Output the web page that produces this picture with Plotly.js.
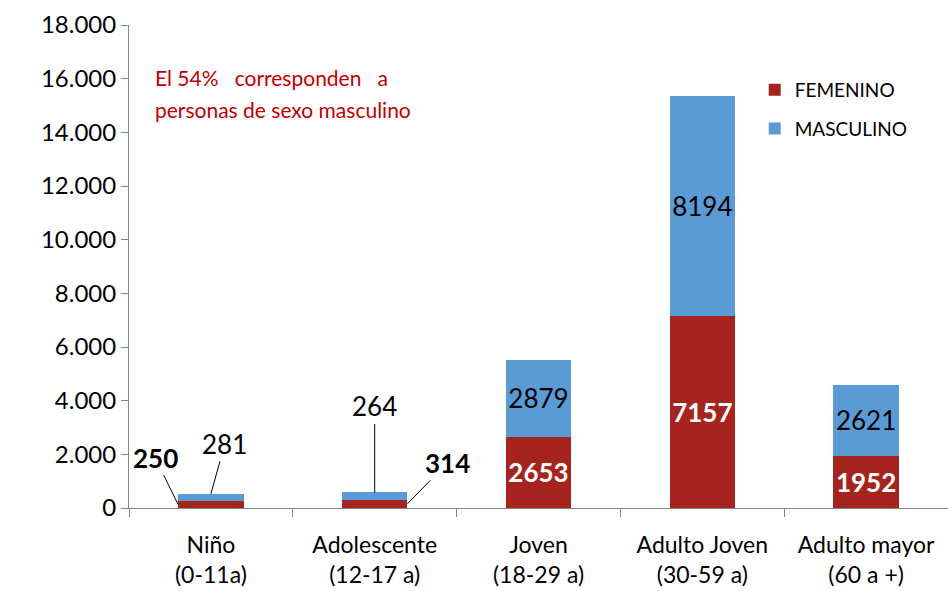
<!DOCTYPE html>
<html>
<head>
<meta charset="utf-8">
<script src="https://cdn.plot.ly/plotly-3.0.1.min.js"></script>
<style>html,body{margin:0;padding:0;background:#fff;}#chart{width:948px;height:591px;}</style>
</head>
<body>
<div id="chart"></div>
<script>
const categories = ["Niño<br>(0-11a)", "Adolescente<br>(12-17 a)", "Joven<br>(18-29 a)", "Adulto Joven<br>(30-59 a)", "Adulto mayor<br>(60 a +)"];
const femenino = [250, 314, 2653, 7157, 1952];
const masculino = [281, 264, 2879, 8194, 2621];
const yTicks = [0, 2000, 4000, 6000, 8000, 10000, 12000, 14000, 16000, 18000];

const FONT = "Lato, 'Open Sans', sans-serif";
const RED = "#A5241D";
const BLUE = "#5B9BD5";

const idx = categories.map((_, i) => i);
const insideFem = femenino.map((v, i) => i >= 2 ? String(v) : "");
const insideMas = masculino.map((v, i) => i >= 2 ? String(v) : "");

const traces = [
  {
    type: "bar", name: "FEMENINO", x: idx, y: femenino,
    marker: {color: RED}, width: 0.4,
    text: insideFem, textposition: "inside", insidetextanchor: "middle", textangle: 0,
    textfont: {family: FONT, size: 26, color: "#ffffff", weight: "bold"},
    constraintext: "none", hoverinfo: "skip", legendgroup: "f"
  },
  {
    type: "bar", name: "MASCULINO", x: idx, y: masculino,
    marker: {color: BLUE}, width: 0.4,
    text: insideMas, textposition: "inside", insidetextanchor: "middle", textangle: 0,
    textfont: {family: FONT, size: 26, color: "#000000"},
    constraintext: "none", hoverinfo: "skip", legendgroup: "m"
  }
];

const lineStyle = {showarrow: true, arrowhead: 0, arrowwidth: 1, arrowcolor: "#000", xref: "x", yref: "y"};
const annotations = [
  Object.assign({}, lineStyle, {x: -0.2, y: femenino[0] / 2, ax: -23, ay: -47,
    text: "<b>" + femenino[0] + "</b>", font: {family: FONT, size: 26, color: "#000"}}),
  Object.assign({}, lineStyle, {x: 0, y: femenino[0] + masculino[0], ax: 14, ay: -50,
    text: String(masculino[0]), font: {family: FONT, size: 26, color: "#000"}}),
  Object.assign({}, lineStyle, {x: 1, y: femenino[1] + masculino[1], ax: 0, ay: -86,
    text: String(masculino[1]), font: {family: FONT, size: 26, color: "#000"}}),
  Object.assign({}, lineStyle, {x: 1.2, y: femenino[1] / 2, ax: 40, ay: -41,
    text: "<b>" + femenino[1] + "</b>", font: {family: FONT, size: 26, color: "#000"}}),
  {xref: "paper", yref: "paper", x: 0.029, y: 0.892, xanchor: "left", yanchor: "middle", align: "left",
    showarrow: false,
    text: "El 54%&nbsp;&nbsp; corresponden&nbsp;&nbsp; a",
    font: {family: FONT, size: 21, color: "#C00000"}},
  {xref: "paper", yref: "paper", x: 0.029, y: 0.826, xanchor: "left", yanchor: "middle", align: "left",
    showarrow: false,
    text: "personas de sexo masculino",
    font: {family: FONT, size: 21, color: "#C00000"}}
];

const layout = {
  width: 948, height: 591,
  margin: {l: 129, r: 0, t: 25, b: 83},
  paper_bgcolor: "#ffffff", plot_bgcolor: "#ffffff",
  barmode: "stack",
  separators: ",.",
  showlegend: true,
  legend: {x: 0.764, y: 0.905, xanchor: "left", yanchor: "top", traceorder: "grouped",
    tracegroupgap: 11, font: {family: FONT, size: 19, color: "#000"}, itemwidth: 30},
  xaxis: {
    type: "linear", range: [-0.5, 4.5], tickmode: "array",
    tickvals: idx, ticktext: categories,
    showgrid: false, zeroline: false, showline: true, linecolor: "#868686", linewidth: 1,
    ticks: "", ticklabelstandoff: 16, tickfont: {family: FONT, size: 23, color: "#000"}
  },
  xaxis2: {
    overlaying: "x", range: [-0.5, 4.5], tickmode: "array",
    tickvals: [-0.5, 0.5, 1.5, 2.5, 3.5, 4.5], showticklabels: false,
    ticks: "outside", ticklen: 8, tickcolor: "#868686", showgrid: false, zeroline: false,
    showline: false, anchor: "y", side: "bottom"
  },
  yaxis: {
    range: [0, 18000], tickmode: "array", tickvals: yTicks, tickformat: ",d",
    showgrid: false, zeroline: false, showline: true, linecolor: "#868686", linewidth: 1,
    ticks: "outside", ticklen: 7, tickcolor: "#868686",
    tickfont: {family: FONT, size: 24, color: "#000"}
  },
  annotations: annotations
};

traces.push({type: "scatter", x: [0], y: [0], xaxis: "x2", yaxis: "y", mode: "markers",
  marker: {opacity: 0}, showlegend: false, hoverinfo: "skip"});

Plotly.newPlot("chart", traces, layout, {displayModeBar: false, staticPlot: true});
</script>
</body>
</html>
